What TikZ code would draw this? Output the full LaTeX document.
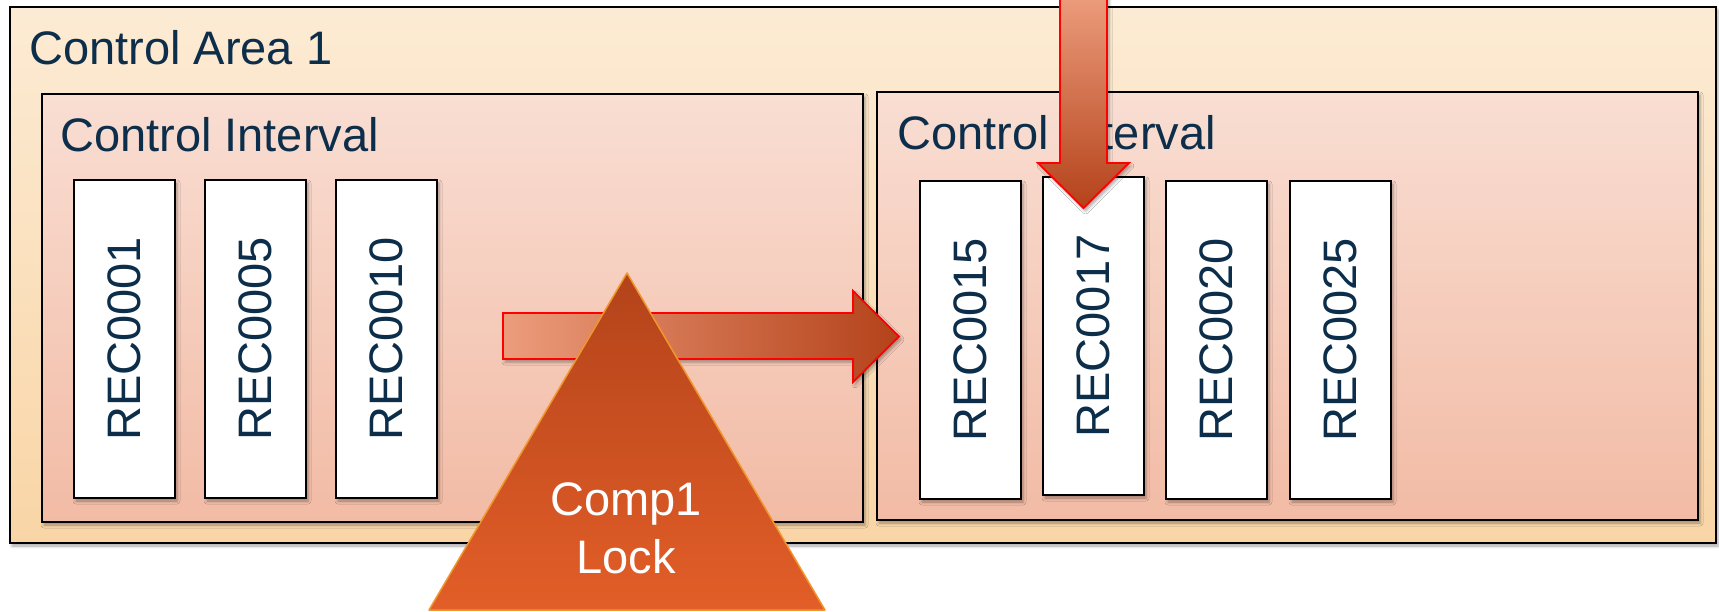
\documentclass[tikz,border=0pt]{standalone}
\usepackage{fontspec}
\setmainfont{Liberation Sans}
\usetikzlibrary{shadows,shadows.blur}

\definecolor{areatop}{HTML}{FCEBD4}
\definecolor{areabot}{HTML}{F9D5A6}
\definecolor{ivtop}{HTML}{F9DED3}
\definecolor{ivbot}{HTML}{F2BBA5}
\definecolor{navy}{HTML}{0D2E4A}
\definecolor{arrowlight}{HTML}{EC9C7C}
\definecolor{arrowdark}{HTML}{B4421A}
\definecolor{locktop}{HTML}{B3431A}
\definecolor{lockbot}{HTML}{E35E28}
\definecolor{lockedge}{HTML}{F0962D}

\begin{document}
\begin{tikzpicture}[x=1pt,y=-1pt,
  soft/.style={blur shadow={shadow xshift=2pt,shadow yshift=-3pt,
      shadow blur radius=3pt,shadow opacity=35}},
  panel/.style={draw=black,line width=1.8pt,soft,inner sep=0pt,outer sep=0pt,
      anchor=north west},
  areabox/.style={panel,top color=areatop,bottom color=areabot},
  ivbox/.style={panel,top color=ivtop,bottom color=ivbot},
  recbox/.style={panel,fill=white,minimum width=101pt},
  caption/.style={font=\fontsize{47}{56}\selectfont,text=navy,inner sep=0pt},
  blockarrow/.style={draw=red,line width=1.8pt,line join=miter,soft},
]
\useasboundingbox (0,0) rectangle (1719,612);

% outer area and the two intervals
\node[areabox,minimum width=1706pt,minimum height=536pt] (area) at (10,7) {};
\node[caption,anchor=base west] (areatitle) at (29,65) {Control Area 1};

\node[ivbox,minimum width=821pt,minimum height=428pt] (ivl) at (42,94) {};
\node[ivbox,minimum width=821pt,minimum height=428pt] (ivr) at (877,92) {};
\node[caption,anchor=base west] (ivltitle) at (60,152) {Control Interval};
\node[caption,anchor=base west] (ivrtitle) at (897,150) {Control Interval};

% record boxes
\foreach \n/\x/\y in {1/74/180,5/205/180,10/336/180,15/920/181,20/1166/181,25/1290/181}{
  \node[recbox,minimum height=318pt] (rec\n) at (\x,\y) {};
}
\node[recbox,minimum height=318pt] (rec17) at (1043,177) {};
\foreach \n/\t in {1/REC0001,5/REC0005,10/REC0010,15/REC0015,17/REC0017,20/REC0020,25/REC0025}{
  \node[caption,rotate=90] (t\n) at (rec\n.center) {\t};
}

% vertical block arrow coming down onto REC0017
\shade[blockarrow,top color=arrowlight,bottom color=arrowdark]
  (1060,-4) -- (1060,163) -- (1038,163) -- (1083.5,208) -- (1129,163)
  -- (1107,163) -- (1107,-4) -- cycle;

% horizontal block arrow between the intervals
\shade[blockarrow,left color=arrowlight,right color=arrowdark]
  (503,313) -- (853,313) -- (853,291) -- (899,336.5) -- (853,382)
  -- (853,359) -- (503,359) -- cycle;

% lock triangle
\shade[top color=locktop,bottom color=lockbot,draw=lockedge,line width=1.5pt,
  line join=round]
  (627,273) -- (825,610) -- (429,610) -- cycle;
\node[caption,text=white,anchor=base] (lock1) at (626,515) {Comp1};
\node[caption,text=white,anchor=base] (lock2) at (626,573) {Lock};
\end{tikzpicture}
\end{document}
